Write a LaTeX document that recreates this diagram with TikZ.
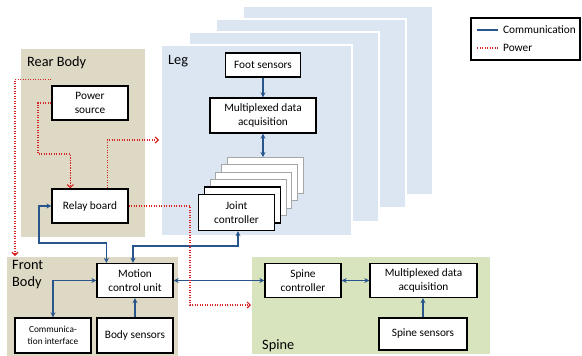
\documentclass[tikz,border=0pt]{standalone}
\usepackage{fontspec}
\setmainfont{Carlito}
\usetikzlibrary{arrows.meta}
\definecolor{comm}{RGB}{40,85,140}
\definecolor{pow}{RGB}{215,35,35}
\definecolor{tanbg}{RGB}{221,217,196}
\definecolor{legbg}{RGB}{220,230,242}
\definecolor{spinebg}{RGB}{215,228,189}
\begin{document}
\begin{tikzpicture}[x=1pt,y=-1pt,
  box/.style={draw=black,line width=1.3pt,fill=white,align=center,inner sep=0pt,
    font=\fontsize{11.3}{14}\selectfont},
  stackbox/.style={draw=gray!70,line width=1pt,fill=white,inner sep=0pt,
    minimum width=76pt,minimum height=36pt},
  title/.style={font=\fontsize{14.3}{17}\selectfont,align=left,inner sep=0pt},
  commline/.style={draw=comm,line width=1.4pt,{Stealth[length=5pt,width=5pt]}-{Stealth[length=5pt,width=5pt]}},
  commone/.style={draw=comm,line width=1.4pt,-{Stealth[length=5pt,width=5pt]}},
  powline/.style={draw=pow,line width=1.3pt,dash pattern=on 1.3pt off 1.2pt,
    -{Straight Barb[length=3pt,width=6pt,line width=1.2pt]}},
  panel/.style={fill=legbg,draw=white,line width=1.2pt}
]
\useasboundingbox (0,0) rectangle (582,356);
% regions
\fill[tanbg] (21,49) rectangle (145,237);
\node[title,anchor=west] (rbt) at (27,63) {Rear Body};
\path[panel] (243,6) rectangle (433,195);
\path[panel] (216,19) rectangle (406,208);
\path[panel] (189,32) rectangle (379,222);
\path[panel] (161,45) rectangle (352,236);
\node[title,anchor=west] (legt) at (168,61) {Leg};
\fill[tanbg] (7,257) rectangle (178,356);
\node[title,anchor=north west] (fbt) at (12,260) {Front\\Body};
\fill[spinebg] (252,257) rectangle (490,354);
\node[title,anchor=west] (spt) at (262,346) {Spine};
% rear body boxes
\node[box,minimum width=76pt,minimum height=34pt] (ps) at (90,103) {Power\\source};
\node[box,minimum width=76pt,minimum height=34pt] (relay) at (90,206) {Relay board};
% leg boxes
\node[box,minimum width=75pt,minimum height=24pt] (foot) at (263,65) {Foot sensors};
\node[box,minimum width=106pt,minimum height=35pt] (lmux) at (263,115.5) {Multiplexed data\\acquisition};
\foreach \i in {5,4,3,2} {
  \node[stackbox] (jc\i) at (236.5+5.8*\i,212.5-7.4*\i) {};
}
\node[stackbox,draw=black,line width=1.3pt] (jc1) at (242.3,205.1) {};
\node[box,minimum width=76pt,minimum height=36pt] (jc) at (236.5,212.5) {Joint\\controller};
% front body boxes
\node[box,minimum width=76pt,minimum height=34pt] (mcu) at (135,280.5) {Motion\\control unit};
\node[box,minimum width=76pt,minimum height=35pt,font=\fontsize{9.3}{12}\selectfont] (ci) at (53,335.5) {Communica-\\tion interface};
\node[box,minimum width=76pt,minimum height=35pt] (bs) at (135,335.5) {Body sensors};
% spine boxes
\node[box,minimum width=76pt,minimum height=34pt] (sc) at (303,280.5) {Spine\\controller};
\node[box,minimum width=107pt,minimum height=34pt] (smux) at (423.5,280.5) {Multiplexed data\\acquisition};
\node[box,minimum width=88pt,minimum height=32pt] (ss) at (423,334) {Spine sensors};
% coordinates
\coordinate (c1) at (39,243);
\coordinate (fbin) at (15,256);
\coordinate (p1) at (38,154);
\coordinate (legin) at (159,140);
\coordinate (pk) at (190,305);
\coordinate (spin) at (251,305);
% communication
\draw[commline] (relay.west) -| (c1) -| ([xshift=10pt]mcu.north west);
\draw[commline] ([xshift=-2pt]mcu.north) -- ++(0,-17) -| ([xshift=1.5pt]jc.south);
\draw[commline] (mcu.east) -- (sc.west);
\draw[commline] (mcu.west) -| (ci.north);
\draw[commone] (bs.north) -- (mcu.south);
\draw[commline] (sc.east) -- (smux.west);
\draw[commone] (ss.north) -- (smux.south -| ss.north);
\draw[commone] (foot.south) -- (lmux.north);
\draw[commline] (lmux.south) -- (lmux.south |- jc5.north);
% power
\draw[powline] ([yshift=6pt]ps.north west) -| (fbin);
\draw[powline] (ps.west) -| (p1) -| ([xshift=19pt]relay.north west);
\draw[powline] ([xshift=56pt]relay.north west) |- (legin);
\draw[powline] (relay.east) -| (pk) -- (spin);
% legend
\node[draw=black,line width=1.2pt,minimum width=109pt,minimum height=42pt,inner sep=0pt] (legend) at (525.5,39) {};
\coordinate (l1a) at (477,30);
\coordinate (l1b) at (498,30);
\coordinate (l2a) at (477,48);
\coordinate (l2b) at (498,48);
\draw[comm,line width=1.4pt] (l1a) -- (l1b);
\draw[pow,line width=1.3pt,dash pattern=on 1.3pt off 1.2pt] (l2a) -- (l2b);
\node[anchor=west,inner sep=0pt,font=\fontsize{11.3}{13}\selectfont] (lt1) at (503,30) {Communication};
\node[anchor=west,inner sep=0pt,font=\fontsize{11.3}{13}\selectfont] (lt2) at (503,48) {Power};
\end{tikzpicture}
\end{document}
